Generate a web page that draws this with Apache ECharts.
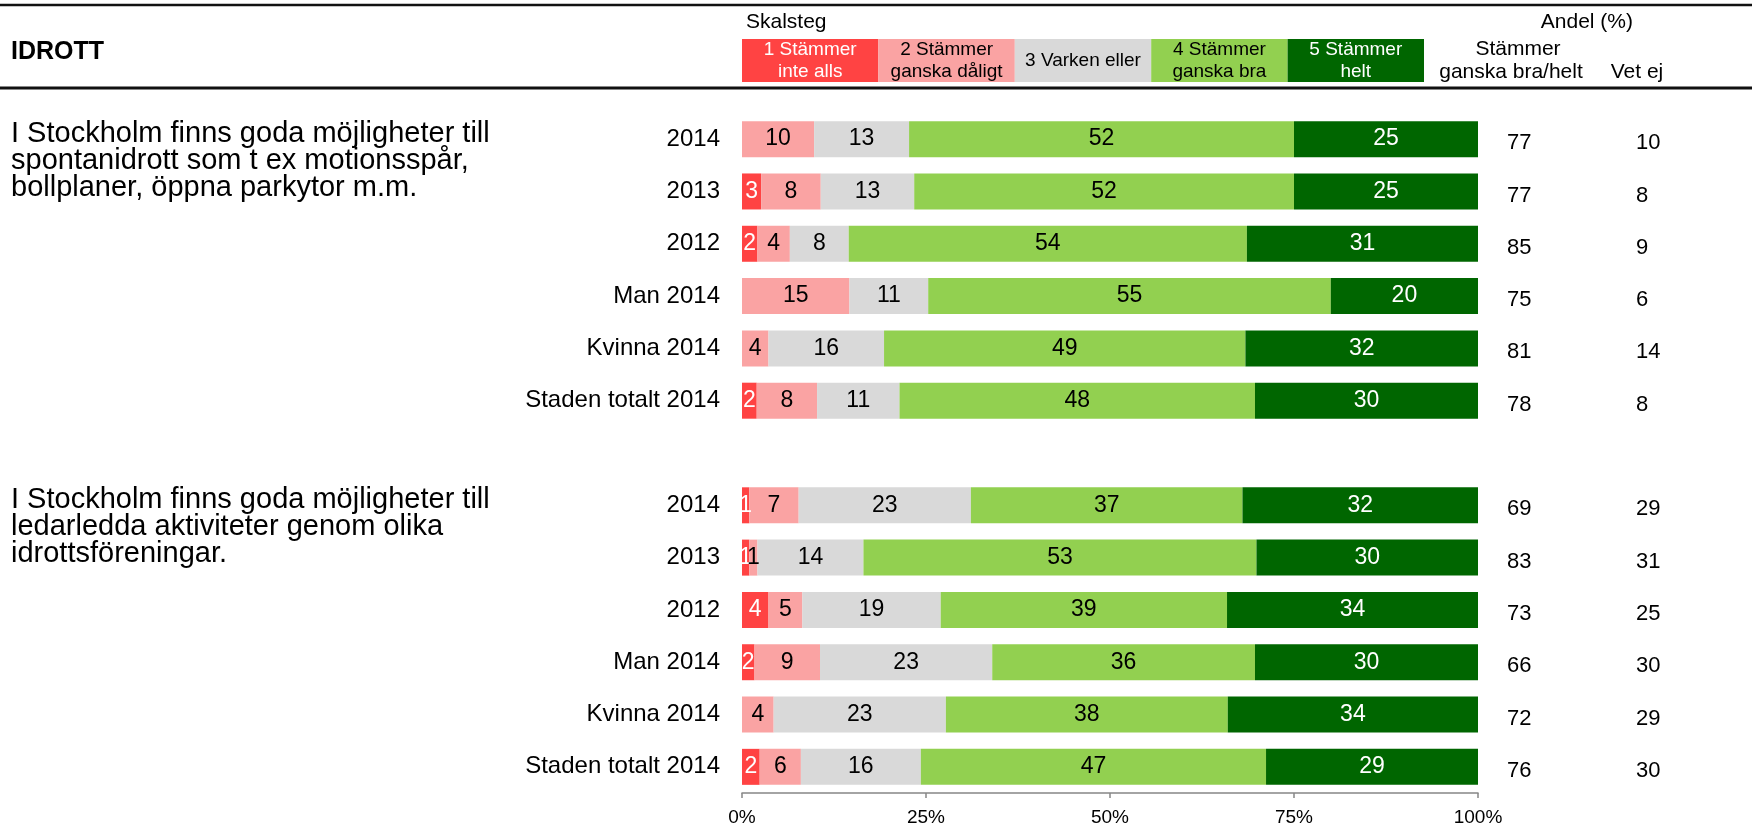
<!DOCTYPE html>
<html>
<head>
<meta charset="utf-8">
<title>Idrott</title>
<script src="https://cdn.jsdelivr.net/npm/echarts@6/dist/echarts.min.js"></script>
<style>
  html, body { margin: 0; padding: 0; background: #fff; }
  #chart { width: 1760px; height: 827px; }
</style>
</head>
<body>
<div id="chart"></div>
<script>
const FONT = '"Liberation Sans", Arial, sans-serif';

const categories = ['2014', '2013', '2012', 'Man 2014', 'Kvinna 2014', 'Staden totalt 2014', '',
  '2014', '2013', '2012', 'Man 2014', 'Kvinna 2014', 'Staden totalt 2014'];

// andel per skalsteg (%), vet ej borträknat
const steg1 = [0, 2.6, 2.1, 0, 0, 2.0, null, 1.0, 1.0, 3.6, 1.7, 0, 2.4];
const steg2 = [9.8, 8.1, 4.4, 14.6, 3.6, 8.2, null, 6.7, 1.1, 4.6, 8.9, 4.3, 5.6];
const steg3 = [12.9, 12.7, 8.0, 10.7, 15.7, 11.2, null, 23.4, 14.4, 18.8, 23.4, 23.4, 16.3];
const steg4 = [52.3, 51.6, 54.1, 54.7, 49.1, 48.3, null, 36.9, 53.4, 38.9, 35.7, 38.3, 46.9];
const steg5 = [25.0, 25.0, 31.4, 20.0, 31.6, 30.3, null, 32.0, 30.1, 34.1, 30.3, 34.0, 28.8];

// kolumnerna till höger
const andelBra = [77, 77, 85, 75, 81, 78, null, 69, 83, 73, 66, 72, 76];
const vetEj = [10, 8, 9, 6, 14, 8, null, 29, 31, 25, 30, 29, 30];

const stegNamn = ['1 Stämmer\ninte alls', '2 Stämmer\nganska dåligt', '3 Varken eller',
  '4 Stämmer\nganska bra', '5 Stämmer\nhelt'];
const fragor = [
  'I Stockholm finns goda möjligheter till\nspontanidrott som t ex motionsspår,\nbollplaner, öppna parkytor m.m.',
  'I Stockholm finns goda möjligheter till\nledarledda aktiviteter genom olika\nidrottsföreningar.'
];

const stegFarg = ['#FF4343', '#FAA3A3', '#D9D9D9', '#92D050', '#006600'];
const textFarg = ['#fff', '#000', '#000', '#000', '#fff'];
const stegData = [steg1, steg2, steg3, steg4, steg5];

const chart = echarts.init(document.getElementById('chart'));

// rubrik, linjer och skalsteg-förklaring
const graphic = [
  { type: 'line', shape: { x1: 0, y1: 5, x2: 1752, y2: 5 }, style: { stroke: '#111', lineWidth: 2.5 } },
  { type: 'line', shape: { x1: 0, y1: 88, x2: 1752, y2: 88 }, style: { stroke: '#111', lineWidth: 3 } },
  { type: 'text', x: 11, y: 52, style: { text: 'IDROTT', fill: '#000', font: 'bold 25px ' + FONT, textVerticalAlign: 'middle' } },
  { type: 'text', x: 746, y: 22, style: { text: 'Skalsteg', fill: '#000', font: '21px ' + FONT, textVerticalAlign: 'middle' } },
  { type: 'text', x: 1633, y: 22, style: { text: 'Andel (%)', fill: '#000', font: '21px ' + FONT, textAlign: 'right', textVerticalAlign: 'middle' } },
  { type: 'text', x: 1518, y: 49, style: { text: 'Stämmer', fill: '#000', font: '21px ' + FONT, textAlign: 'center', textVerticalAlign: 'middle' } },
  { type: 'text', x: 1511, y: 72, style: { text: 'ganska bra/helt', fill: '#000', font: '21px ' + FONT, textAlign: 'center', textVerticalAlign: 'middle' } },
  { type: 'text', x: 1637, y: 72, style: { text: 'Vet ej', fill: '#000', font: '21px ' + FONT, textAlign: 'center', textVerticalAlign: 'middle' } }
];
stegNamn.forEach((namn, i) => {
  const x = 742 + i * 136.4;
  graphic.push({ type: 'rect', shape: { x: x, y: 39, width: 136.4, height: 43 }, style: { fill: stegFarg[i] } });
  graphic.push({ type: 'text', x: x + 68.2, y: 61, style: {
    text: namn, fill: textFarg[i], font: '19px ' + FONT, lineHeight: 22,
    textAlign: 'center', textVerticalAlign: 'middle' } });
});
fragor.forEach((fraga, i) => {
  graphic.push({ type: 'text', x: 11, y: [120, 486][i], style: {
    text: fraga, fill: '#000', font: '29px ' + FONT, lineHeight: 27, textVerticalAlign: 'top' } });
});

const hiddenAxis = { show: false };
// siffrorna till höger ligger en aning under staplarnas mitt
const kolumnRich = { v: { fontSize: 22, fontFamily: FONT, color: '#000', padding: [8, 0, 0, 0] } };

const option = {
  animation: false,
  backgroundColor: '#fff',
  grid: { left: 742, right: 282, top: 113, bottom: 34, containLabel: false, outerBoundsMode: 'none' },
  xAxis: {
    type: 'value',
    min: 0,
    max: 100,
    interval: 25,
    axisLine: { show: true, lineStyle: { color: '#868686', width: 1.5 } },
    axisTick: { show: true, length: 5, lineStyle: { color: '#868686', width: 1.5 } },
    splitLine: { show: false },
    axisLabel: { formatter: '{value}%', color: '#000', fontSize: 19, fontFamily: FONT, margin: 15 }
  },
  yAxis: [
    {
      type: 'category',
      data: categories,
      inverse: true,
      axisLine: hiddenAxis,
      axisTick: hiddenAxis,
      axisLabel: { interval: 0, color: '#000', fontSize: 24, fontFamily: FONT, margin: 22 }
    },
    {
      type: 'category',
      data: categories,
      inverse: true,
      position: 'right',
      axisLine: hiddenAxis,
      axisTick: hiddenAxis,
      axisLabel: {
        interval: 0, margin: 29, align: 'left', rich: kolumnRich,
        formatter: (v, i) => (andelBra[i] == null ? '' : '{v|' + andelBra[i] + '}')
      }
    },
    {
      type: 'category',
      data: categories,
      inverse: true,
      position: 'right',
      offset: 158,
      axisLine: hiddenAxis,
      axisTick: hiddenAxis,
      axisLabel: {
        interval: 0, margin: 0, align: 'left', rich: kolumnRich,
        formatter: (v, i) => (vetEj[i] == null ? '' : '{v|' + vetEj[i] + '}')
      }
    }
  ],
  series: stegData.map((data, i) => ({
    name: stegNamn[i].replace('\n', ' '),
    type: 'bar',
    stack: 'total',
    data: data,
    barWidth: 36,
    silent: true,
    itemStyle: { color: stegFarg[i] },
    label: {
      show: true,
      position: 'inside',
      color: textFarg[i],
      fontSize: 23,
      fontFamily: FONT,
      textBorderWidth: 0,
      formatter: p => (p.value ? String(Math.round(p.value)) : '')
    }
  })),
  graphic: graphic
};

chart.setOption(option);
</script>
</body>
</html>
